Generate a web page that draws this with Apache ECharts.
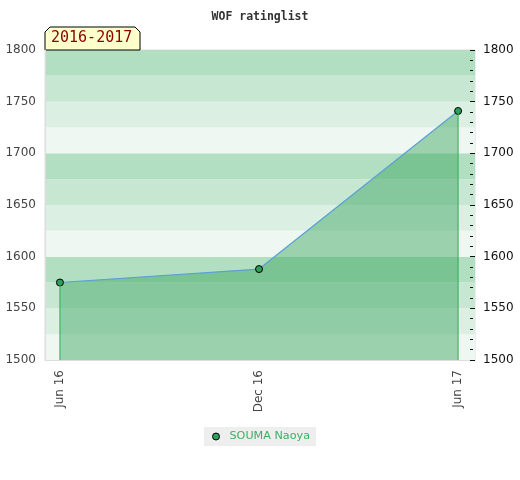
<!DOCTYPE html>
<html><head><meta charset="utf-8">
<script src="https://cdn.jsdelivr.net/npm/echarts@6/dist/echarts.min.js"></script>
<style>html,body{margin:0;padding:0;background:#fff}#c{width:520px;height:480px}</style>
</head><body><div id="c"></div>
<script>
const titleText = 'WOF ratinglist';
const periodLabel = '2016-2017';
const playerName = 'SOUMA Naoya';
const categories = ['Jun 16', 'Dec 16', 'Jun 17'];
const ratings = [1575, 1588, 1741];
const yMin = 1500, yMax = 1800, yStep = 50;

const bandColors = ['#eef7f1', '#dbefe2', '#c8e7d3', '#b2dfc2'];
const bands = [];
for (let v = yMin, i = 0; v < yMax; v += 25, i++) {
  bands.push([{ yAxis: v, itemStyle: { color: bandColors[i % 4] } }, { yAxis: v + 25 }]);
}
const points = ratings.map((r, i) => [i, r]);
const last = points.length - 1;

const chart = echarts.init(document.getElementById('c'), null, { renderer: 'canvas' });
chart.setOption({
  animation: false,
  backgroundColor: '#fff',
  title: { text: titleText, left: 'center', top: 6,
    textStyle: { fontFamily: 'DejaVu Sans Mono', fontWeight: 'bold', fontSize: 11.5, color: '#333' } },
  grid: { left: 45, right: 45, top: 50, bottom: 120, show: true, borderColor: '#dddddd', borderWidth: 1, backgroundColor: 'transparent' },
  legend: {
    bottom: 34, left: 204, backgroundColor: '#eeeeee', padding: [4, 6, 4, 8],
    itemWidth: 7, itemHeight: 7, icon: 'circle',
    itemStyle: { color: '#2e9e5a', borderColor: '#000', borderWidth: 1 },
    textStyle: { color: '#3cb060', fontFamily: 'DejaVu Sans', fontSize: 11.2, padding: [0, 0, 0, 5] },
    data: [playerName]
  },
  xAxis: {
    type: 'value', min: -0.075, max: 2.085,
    axisLine: { show: true, onZero: false, lineStyle: { color: '#dddddd' } },
    axisTick: { show: false },
    splitLine: { show: false },
    axisLabel: { customValues: [0, 1, 2], rotate: 90, margin: 10, color: '#444',
      fontFamily: 'DejaVu Sans', fontSize: 12, formatter: v => categories[Math.round(v)] }
  },
  yAxis: [
    { type: 'value', min: yMin, max: yMax, interval: yStep, position: 'left', z: 10,
      axisLine: { show: true, onZero: false, lineStyle: { color: '#dddddd' } }, axisTick: { show: false },
      splitLine: { show: false },
      axisLabel: { color: '#444', fontFamily: 'DejaVu Sans', fontSize: 12, margin: 9, formatter: v => String(v) } },
    { type: 'value', min: yMin, max: yMax, interval: yStep, position: 'right', offset: -5, z: 10,
      axisLine: { show: false, onZero: false },
      axisTick: { show: true, length: 5, lineStyle: { color: '#111' } },
      minorTick: { show: true, splitNumber: 5, length: 3, lineStyle: { color: '#111' } },
      splitLine: { show: false },
      axisLabel: { color: '#111', fontFamily: 'DejaVu Sans', fontSize: 12, margin: 13, formatter: v => String(v) } }
  ],
  series: [
    { type: 'line', name: 'bands', data: [], silent: true, z: 0,
      markArea: { silent: true, data: bands } },
    { type: 'line', name: 'v0', data: [[points[0][0], yMin], points[0]], symbol: 'none', silent: true,
      lineStyle: { color: '#2eae52', width: 1 }, z: 4 },
    { type: 'line', name: 'v1', data: [[points[last][0], yMin], points[last]], symbol: 'none', silent: true,
      lineStyle: { color: '#2eae52', width: 1 }, z: 4 },
    { type: 'line', name: playerName, data: points, symbol: 'circle', symbolSize: 7,
      itemStyle: { color: '#2e9e5a', borderColor: '#000', borderWidth: 1 },
      lineStyle: { color: '#5a9fd6', width: 1.2 },
      areaStyle: { color: 'rgba(54,162,92,0.45)', opacity: 1, origin: 'start' }, z: 3 }
  ],
  graphic: [
    { type: 'polygon', z: 10,
      shape: { points: [[45, 50], [45, 32], [50, 27], [135, 27], [140, 32], [140, 50]] },
      style: { fill: '#ffffcc', stroke: '#000', lineWidth: 1 } },
    { type: 'text', z: 11, left: 51, top: 31,
      style: { text: periodLabel, fill: '#8b0000', font: '15px "DejaVu Sans Mono"' } }
  ]
});
</script></body></html>
